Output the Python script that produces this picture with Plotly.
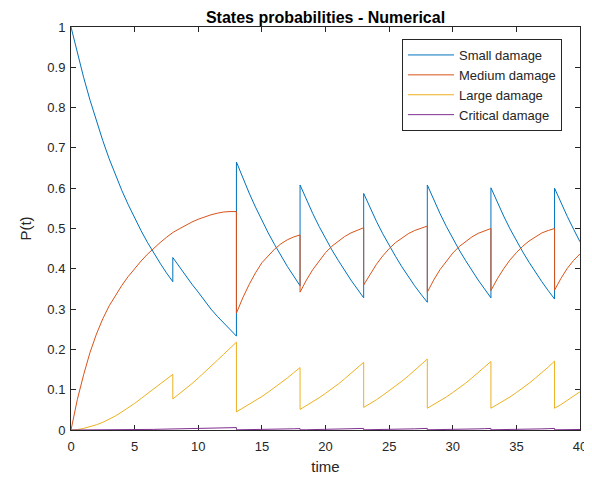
import plotly.graph_objects as go

# time samples (jump instants repeated: value before / after the jump)
time = (
    [0, 0.5, 1, 1.5, 2, 2.5, 3, 3.5, 4, 4.5, 5, 5.5, 6, 6.5, 7, 7.5, 8]
    + [8, 8.5, 9, 9.5, 10, 10.5, 11, 11.5, 12, 12.5, 13]
    + [13, 13.5, 14, 14.5, 15, 15.5, 16, 16.5, 17, 17.5, 18]
    + [18, 18.5, 19, 19.5, 20, 20.5, 21, 21.5, 22, 22.5, 23]
    + [23, 23.5, 24, 24.5, 25, 25.5, 26, 26.5, 27, 27.5, 28]
    + [28, 28.5, 29, 29.5, 30, 30.5, 31, 31.5, 32, 32.5, 33]
    + [33, 33.5, 34, 34.5, 35, 35.5, 36, 36.5, 37, 37.5, 38]
    + [38, 38.5, 39, 39.5, 40]
)

small_damage = (
    [1.0, 0.935, 0.874, 0.818, 0.766, 0.718, 0.673, 0.632, 0.594, 0.559, 0.526, 0.495, 0.466, 0.439, 0.414, 0.390, 0.368]
    + [0.428, 0.405, 0.383, 0.362, 0.342, 0.320, 0.300, 0.282, 0.265, 0.249, 0.233]
    + [0.665, 0.625, 0.588, 0.553, 0.520, 0.489, 0.460, 0.432, 0.406, 0.382, 0.358]
    + [0.608, 0.571, 0.537, 0.505, 0.475, 0.447, 0.421, 0.396, 0.372, 0.350, 0.328]
    + [0.587, 0.551, 0.518, 0.487, 0.458, 0.431, 0.405, 0.381, 0.358, 0.337, 0.317]
    + [0.608, 0.571, 0.537, 0.505, 0.475, 0.447, 0.421, 0.396, 0.372, 0.350, 0.328]
    + [0.601, 0.565, 0.531, 0.499, 0.469, 0.442, 0.416, 0.391, 0.368, 0.346, 0.325]
    + [0.600, 0.564, 0.530, 0.498, 0.467]
)

medium_damage = (
    [0.0, 0.076, 0.138, 0.193, 0.238, 0.276, 0.308, 0.335, 0.359, 0.381, 0.401, 0.419, 0.436, 0.451, 0.465, 0.478, 0.490]
    + [0.490, 0.499, 0.508, 0.516, 0.523, 0.529, 0.534, 0.538, 0.541, 0.542, 0.542]
    + [0.290, 0.328, 0.361, 0.390, 0.415, 0.433, 0.449, 0.462, 0.472, 0.479, 0.484]
    + [0.342, 0.372, 0.398, 0.420, 0.440, 0.456, 0.469, 0.480, 0.489, 0.496, 0.502]
    + [0.360, 0.387, 0.411, 0.432, 0.450, 0.465, 0.477, 0.487, 0.495, 0.501, 0.506]
    + [0.342, 0.372, 0.398, 0.420, 0.439, 0.455, 0.468, 0.479, 0.488, 0.495, 0.500]
    + [0.346, 0.375, 0.400, 0.422, 0.440, 0.456, 0.469, 0.480, 0.489, 0.495, 0.500]
    + [0.347, 0.376, 0.401, 0.421, 0.437]
)

large_damage = (
    [0.0, 0.001, 0.004, 0.008, 0.013, 0.019, 0.026, 0.035, 0.045, 0.055, 0.066, 0.078, 0.090, 0.101, 0.113, 0.125, 0.138]
    + [0.077, 0.089, 0.102, 0.115, 0.129, 0.143, 0.158, 0.173, 0.188, 0.203, 0.218]
    + [0.045, 0.054, 0.063, 0.073, 0.083, 0.094, 0.105, 0.117, 0.129, 0.142, 0.155]
    + [0.051, 0.060, 0.070, 0.080, 0.091, 0.102, 0.114, 0.127, 0.140, 0.154, 0.168]
    + [0.056, 0.065, 0.075, 0.086, 0.097, 0.109, 0.121, 0.134, 0.148, 0.162, 0.176]
    + [0.054, 0.063, 0.072, 0.082, 0.093, 0.104, 0.116, 0.129, 0.142, 0.156, 0.170]
    + [0.054, 0.063, 0.072, 0.082, 0.093, 0.104, 0.116, 0.129, 0.142, 0.156, 0.171]
    + [0.054, 0.063, 0.073, 0.084, 0.095]
)

critical_damage = (
    [0.0, 0.0, 0.0, 0.0, 0.0, 0.0, 0.0001, 0.0002, 0.0003, 0.0005, 0.0007, 0.0009, 0.0012, 0.0015, 0.0019, 0.0023, 0.0028]
    + [0.0015, 0.0018, 0.0021, 0.0025, 0.0029, 0.0033, 0.0038, 0.0043, 0.0048, 0.0054, 0.0060]
    + [0.0004, 0.0005, 0.0007, 0.0009, 0.0011, 0.0014, 0.0017, 0.0021, 0.0025, 0.0030, 0.0035]
    + [0.0005, 0.0006, 0.0008, 0.0010, 0.0013, 0.0016, 0.0019, 0.0023, 0.0028, 0.0033, 0.0039]
    + [0.0005, 0.0006, 0.0008, 0.0010, 0.0013, 0.0016, 0.0020, 0.0024, 0.0029, 0.0034, 0.0040]
    + [0.0005, 0.0006, 0.0008, 0.0010, 0.0013, 0.0016, 0.0019, 0.0023, 0.0028, 0.0033, 0.0039]
    + [0.0005, 0.0006, 0.0008, 0.0010, 0.0013, 0.0016, 0.0019, 0.0023, 0.0028, 0.0033, 0.0039]
    + [0.0005, 0.0006, 0.0008, 0.0010, 0.0013]
)

series_names = ["Small damage", "Medium damage", "Large damage", "Critical damage"]
series_values = [small_damage, medium_damage, large_damage, critical_damage]
series_colors = ["#0072BD", "#D95319", "#EDB120", "#7E2F8E"]

x_ticks = [0, 5, 10, 15, 20, 25, 30, 35, 40]
y_ticks = [0, 0.1, 0.2, 0.3, 0.4, 0.5, 0.6, 0.7, 0.8, 0.9, 1]
y_tick_labels = ["0", "0.1", "0.2", "0.3", "0.4", "0.5", "0.6", "0.7", "0.8", "0.9", "1"]

FONT = "Liberation Sans, Arial, sans-serif"

fig = go.Figure()
for name, vals, col in zip(series_names, series_values, series_colors):
    fig.add_trace(go.Scatter(x=time, y=vals, mode="lines", name=name,
                             line=dict(color=col, width=1)))

axis_common = dict(
    showline=True, linecolor="#262626", linewidth=1, mirror="ticks",
    ticks="inside", ticklen=5, tickcolor="#262626", tickwidth=1,
    showgrid=False, zeroline=False, layer="below traces", automargin=False,
    tickfont=dict(family=FONT, size=13, color="#262626"),
)

# page has an 8px body margin, so the figure is 8px smaller than the window
W, H = 584, 470
L, R, T, B = 63, 12, 19, 48

fig.update_layout(
    width=W, height=H,
    margin=dict(l=L, r=R, t=T, b=B, autoexpand=False),
    paper_bgcolor="white", plot_bgcolor="white",
    title=dict(text="<b>States probabilities - Numerical</b>",
               x=(L + (W - R)) / 2 / W, xanchor="center",
               y=1 - 9.5 / H, yanchor="middle", automargin=False,
               font=dict(family=FONT, size=16, color="black")),
    xaxis=dict(range=[0, 40], tickvals=x_ticks, ticktext=[str(v) for v in x_ticks],
               ticklabelstandoff=4,
               title=dict(text="time", standoff=8,
                          font=dict(family=FONT, size=15, color="#262626")),
               **axis_common),
    yaxis=dict(range=[0, 1], tickvals=y_ticks, ticktext=y_tick_labels,
               ticklabelstandoff=2,
               title=dict(text="P(t)", standoff=12,
                          font=dict(family=FONT, size=15, color="#262626")),
               **axis_common),
    legend=dict(x=(394 - L) / (W - L - R), y=(H - B - 31) / (H - T - B), xanchor="left", yanchor="top",
                bgcolor="white", bordercolor="#262626", borderwidth=1,
                font=dict(family=FONT, size=13, color="#262626"),
                itemwidth=46, tracegroupgap=0),
    showlegend=True,
)

fig.write_html("out.html")
